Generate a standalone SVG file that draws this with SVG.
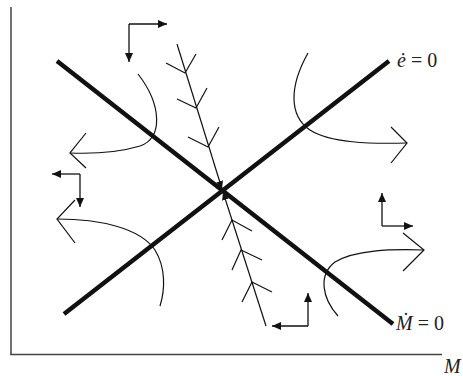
<svg xmlns="http://www.w3.org/2000/svg" width="463" height="376" viewBox="0 0 463 376">
<style>
.axis{stroke:#444;stroke-width:1.5;fill:none}
.thick{stroke:#111;stroke-width:4.5;fill:none;stroke-linecap:butt}
.thin{stroke:#111;stroke-width:1.2;fill:none}
.elbow{stroke:#111;stroke-width:1.3;fill:none;marker-end:url(#ah)}
.lbl{font-family:"Liberation Serif","Times New Roman",serif;font-size:20px;fill:#222}
.it{font-style:italic}
</style>
<defs>
<marker id="ah" markerUnits="userSpaceOnUse" markerWidth="10" markerHeight="8" refX="9" refY="4" orient="auto">
<path d="M0,0 L9,4 L0,8 z" fill="#111"/>
</marker>
<marker id="sh" markerUnits="userSpaceOnUse" markerWidth="10" markerHeight="8" refX="8" refY="3.5" orient="auto">
<path d="M0,0 L8,3.5 L0,7 z" fill="#111"/>
</marker>
</defs>
<g id="axes">
<line class="axis" x1="11" y1="7" x2="11" y2="355"/>
<line class="axis" x1="10.25" y1="354.5" x2="442" y2="354.5"/>
</g>
<g id="loci">
<line id="Mdot-locus" class="thick" x1="57" y1="61" x2="393" y2="324"/>
<line id="edot-locus" class="thick" x1="64" y1="314" x2="389" y2="61"/>
</g>
<g id="saddle-path">
<line class="thin" x1="177" y1="44" x2="222" y2="189" marker-end="url(#sh)"/>
<line class="thin" x1="266" y1="326" x2="223" y2="192" marker-end="url(#sh)"/>
<polyline class="thin" points="166,63 185,73 196,54"/>
<polyline class="thin" points="177,99 196,108 207,88"/>
<polyline class="thin" points="188,137 208,147 219,127"/>
<polyline class="thin" points="222,240 232,220 252,231"/>
<polyline class="thin" points="232,270 241,250 262,260"/>
<polyline class="thin" points="242,302 252,282 272,292"/>
</g>
<g id="trajectories">
<path class="thin" d="M138,74 C162,105 163,138 140,146 C120,152 95,154 70,153"/>
<polyline class="thin" points="86,133 70,153 86,168"/>
<path class="thin" d="M308,53 C290,85 288,115 310,130 C330,143 370,144 407,143"/>
<polyline class="thin" points="391,127 407,143 391,163"/>
<path class="thin" d="M57,219 C100,219 140,228 155,250 C166,268 165,290 160,306"/>
<polyline class="thin" points="75,200 57,219 75,243"/>
<path class="thin" d="M338,316 C322,298 318,275 335,262 C355,250 390,249 424,250"/>
<polyline class="thin" points="403,233 424,250 403,271"/>
</g>
<g id="direction-arrows">
<g id="dir-top"><path class="elbow" d="M129,24 L167,24"/><path class="elbow" d="M129,24 L129,62"/></g>
<g id="dir-left"><path class="elbow" d="M80,174 L52,174"/><path class="elbow" d="M80,174 L80,207"/></g>
<g id="dir-right"><path class="elbow" d="M382,226 L382,193"/><path class="elbow" d="M382,226 L413,226"/></g>
<g id="dir-bottom"><path class="elbow" d="M308,326 L308,293"/><path class="elbow" d="M308,326 L272,326"/></g>
</g>
<g id="labels">
<text class="lbl" x="397" y="67"><tspan class="it">ė</tspan> = 0</text>
<text class="lbl" x="396" y="330"><tspan class="it">Ṁ</tspan> = 0</text>
<text class="lbl it" x="444" y="373" font-size="19">M</text>
</g>
</svg>
